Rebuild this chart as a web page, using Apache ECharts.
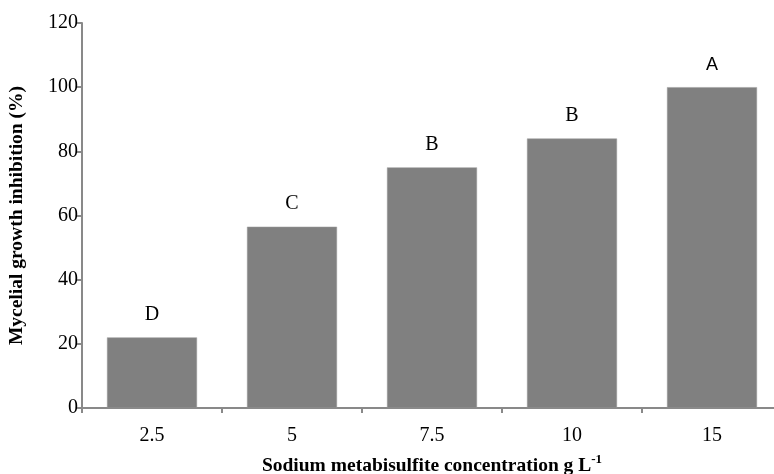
<!DOCTYPE html>
<html><head><meta charset="utf-8">
<script src="https://cdn.jsdelivr.net/npm/echarts@6/dist/echarts.min.js"></script>
<style>html,body{margin:0;padding:0;background:#fff}#c{width:774px;height:474px}</style>
</head><body><div id="c"></div>
<script>
var categories = ['2.5', '5', '7.5', '10', '15'];
var inhibition = [22, 56.5, 75, 84, 100];
var letters = ['D', 'C', 'B', 'B', 'A'];
var yTicks = [0, 20, 40, 60, 80, 100, 120];

var chart = echarts.init(document.getElementById('c'), null, {renderer: 'canvas'});
var serif = '"Liberation Serif", "DejaVu Serif", serif';
var axisColor = '#898989';
chart.setOption({
  animation: false,
  grid: {left: 82, top: 23, width: 700, height: 385, containLabel: false, outerBoundsMode: 'none'},
  xAxis: {
    type: 'category',
    data: categories,
    axisLine: {lineStyle: {color: axisColor, width: 2}},
    axisTick: {show: true, length: 5, alignWithLabel: false, lineStyle: {color: axisColor, width: 2}},
    axisLabel: {color: '#000', fontFamily: serif, fontSize: 20, margin: 18},
    name: '{t|Sodium metabisulfite concentration g L}{s|-1}',
    nameLocation: 'middle',
    nameGap: 45,
    nameTextStyle: {
      rich: {
        t: {fontFamily: serif, fontWeight: 'bold', fontSize: 19.5, color: '#000'},
        s: {fontFamily: serif, fontWeight: 'bold', fontSize: 13, color: '#000', verticalAlign: 'top', padding: [0, 0, 12, 0]}
      }
    }
  },
  yAxis: {
    type: 'value',
    min: yTicks[0], max: yTicks[yTicks.length - 1], interval: 20,
    axisLine: {show: true, lineStyle: {color: axisColor, width: 2}},
    axisTick: {show: true, length: 5, lineStyle: {color: axisColor, width: 2}},
    splitLine: {show: false},
    axisLabel: {color: '#000', fontFamily: serif, fontSize: 20, margin: 4},
    name: 'Mycelial growth inhibition (%)',
    nameLocation: 'middle',
    nameGap: 55,
    nameTextStyle: {fontFamily: serif, fontWeight: 'bold', fontSize: 19.5, color: '#000'}
  },
  series: [{
    type: 'bar',
    data: inhibition.map(function (v, i) {
      return {
        value: v,
        label: {
          show: true, position: 'top', distance: 13,
          formatter: letters[i],
          fontFamily: i === 4 ? '"Liberation Sans", Arial, sans-serif' : serif,
          fontSize: i === 4 ? 18 : 20, color: '#000'
        }
      };
    }),
    barWidth: 90,
    itemStyle: {color: '#808080', borderColor: '#9a9a9a', borderWidth: 0.5}
  }]
});
</script></body></html>
